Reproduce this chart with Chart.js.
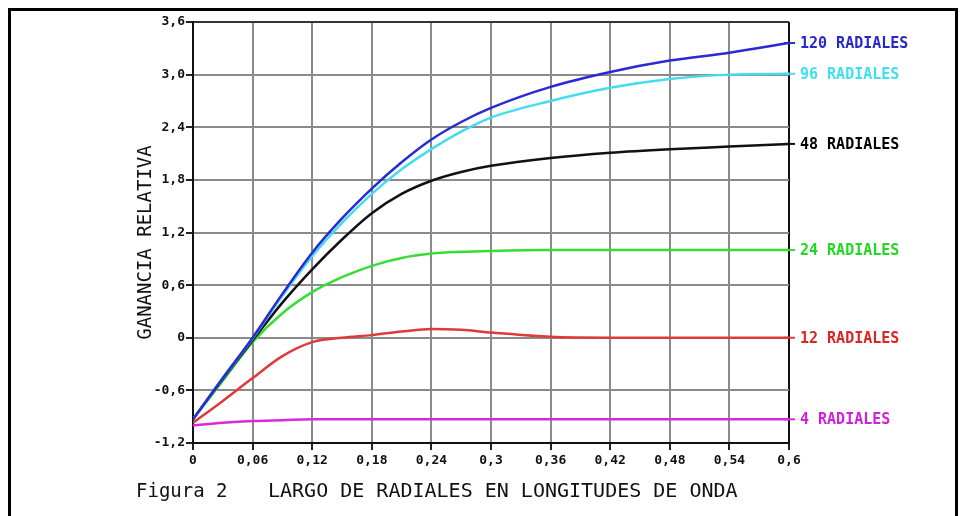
<!DOCTYPE html>
<html>
<head>
<meta charset="utf-8">
<script src="https://cdn.jsdelivr.net/npm/chart.js@4/dist/chart.umd.min.js"></script>
<style>
  body { margin: 0; background: #fff; }
  canvas { display: block; }
</style>
</head>
<body>
<canvas id="myChart" width="961" height="516"></canvas>
<script>
// largo de radiales (longitudes de onda)
var largo = [0, 0.03, 0.06, 0.09, 0.12, 0.15, 0.18, 0.21, 0.24, 0.27, 0.3, 0.36, 0.42, 0.48, 0.54, 0.6]

var rad120 = [-0.93, -0.46, 0.0, 0.5, 0.97, 1.36, 1.7, 2.0, 2.26, 2.46, 2.62, 2.86, 3.03, 3.16, 3.25, 3.36]
var rad96  = [-0.93, -0.46, -0.01, 0.48, 0.93, 1.31, 1.64, 1.92, 2.15, 2.35, 2.51, 2.7, 2.85, 2.95, 3.0, 3.01]
var rad48  = [-0.93, -0.47, -0.03, 0.4, 0.78, 1.12, 1.42, 1.64, 1.79, 1.89, 1.96, 2.05, 2.11, 2.15, 2.18, 2.21]
var rad24  = [-0.93, -0.49, -0.05, 0.28, 0.52, 0.69, 0.82, 0.91, 0.96, 0.98, 0.99, 1.0, 1.0, 1.0, 1.0, 1.0]
var rad12  = [-0.97, -0.72, -0.46, -0.21, -0.05, 0.0, 0.03, 0.07, 0.1, 0.09, 0.06, 0.01, 0.0, 0.0, 0.0, 0.0]
var rad4   = [-1.0, -0.97, -0.95, -0.94, -0.93, -0.93, -0.93, -0.93, -0.93, -0.93, -0.93, -0.93, -0.93, -0.93, -0.93, -0.93]

var xTicks = ["0", "0,06", "0,12", "0,18", "0,24", "0,3", "0,36", "0,42", "0,48", "0,54", "0,6"]
var yTicks = ["-1,2", "-0,6", "0", "0,6", "1,2", "1,8", "2,4", "3,0", "3,6"]

var seriesNames = ["120 RADIALES", "96 RADIALES", "48 RADIALES", "24 RADIALES", "12 RADIALES", "4 RADIALES"]
var seriesData = [rad120, rad96, rad48, rad24, rad12, rad4]
var lineColors = ["#2a2ad2", "#45dcef", "#111111", "#35de35", "#de3a3a", "#dc28dc"]
var textColors = ["#2828c8", "#3ee0ee", "#000000", "#22d822", "#dc2424", "#d020dc"]

var yTitle = "GANANCIA RELATIVA"
var captionA = "Figura 2"
var captionB = "LARGO DE RADIALES EN LONGITUDES DE ONDA"

function pts(arr) {
    return largo.map(function(x, i){ return {x: x, y: arr[i]} })
}

var datasets = seriesData.map(function(arr, i){
    return {
        label: seriesNames[i],
        data: pts(arr),
        borderColor: lineColors[i],
        backgroundColor: lineColors[i],
        borderWidth: 2.5,
        pointRadius: 0,
        cubicInterpolationMode: 'monotone',
        fill: false
    }
})

var mono = "'DejaVu Sans Mono', monospace"

// frame, right-hand labels, axis title and caption
var extras = {
    id: 'extras',
    afterDraw: function(chart){
        var ctx = chart.ctx
        var area = chart.chartArea
        var ys = chart.scales.y
        ctx.save()

        // outer frame
        ctx.strokeStyle = '#000'
        ctx.lineWidth = 3
        ctx.beginPath()
        ctx.moveTo(9.5, 520)
        ctx.lineTo(9.5, 9.5)
        ctx.lineTo(956.5, 9.5)
        ctx.lineTo(956.5, 520)
        ctx.stroke()

        // series labels at the right
        ctx.font = "bold 15px " + mono
        ctx.textBaseline = 'middle'
        ctx.textAlign = 'left'
        seriesData.forEach(function(arr, i){
            var py = ys.getPixelForValue(arr[arr.length - 1])
            ctx.strokeStyle = lineColors[i]
            ctx.lineWidth = 2
            ctx.beginPath()
            ctx.moveTo(area.right - 5, py)
            ctx.lineTo(area.right + 6, py)
            ctx.stroke()
            ctx.fillStyle = textColors[i]
            ctx.fillText(seriesNames[i], area.right + 11, py + 1)
        })

        // y axis title
        ctx.fillStyle = '#111'
        ctx.font = "19px " + mono
        ctx.textAlign = 'center'
        ctx.translate(146, (area.top + area.bottom) / 2 + 10)
        ctx.rotate(-Math.PI / 2)
        ctx.fillText(yTitle, 0, 0)
        ctx.restore()

        // caption
        ctx.save()
        ctx.fillStyle = '#111'
        ctx.textBaseline = 'alphabetic'
        ctx.textAlign = 'left'
        ctx.font = "19px " + mono
        ctx.fillText(captionA, 136, 497)
        ctx.font = "20px " + mono
        ctx.fillText(captionB, 268, 497)
        ctx.restore()
    }
}

var myChart = document.getElementById("myChart").getContext('2d')

var chart = new Chart(myChart, {
    type: 'line',
    data: { datasets: datasets },
    plugins: [extras],
    options: {
        responsive: false,
        animation: false,
        devicePixelRatio: 1,
        layout: { padding: { left: 0, top: 22, right: 172, bottom: 0 } },
        plugins: {
            legend: { display: false },
            tooltip: { enabled: false }
        },
        scales: {
            x: {
                type: 'linear',
                min: 0,
                max: 0.6,
                afterFit: function(s){ s.height = 73 },
                afterBuildTicks: function(s){
                    s.ticks = xTicks.map(function(t, i){ return {value: i * 0.06} })
                },
                ticks: {
                    autoSkip: false,
                    maxRotation: 0,
                    padding: 3,
                    color: '#111',
                    font: { family: mono, size: 13, weight: 'bold' },
                    callback: function(v, i){ return xTicks[i] }
                },
                grid: {
                    color: function(c){ return c.index === xTicks.length - 1 ? '#111' : '#8a8a8a' },
                    lineWidth: 2,
                    tickLength: 7,
                    tickColor: '#222'
                },
                border: { color: '#111', width: 2 }
            },
            y: {
                min: -1.2,
                max: 3.6,
                afterFit: function(s){ s.width = 193 },
                afterBuildTicks: function(s){
                    s.ticks = yTicks.map(function(t, i){ return {value: -1.2 + i * 0.6} })
                },
                ticks: {
                    autoSkip: false,
                    padding: 1,
                    color: '#111',
                    font: { family: mono, size: 13, weight: 'bold' },
                    callback: function(v, i){ return yTicks[i] }
                },
                grid: {
                    color: function(c){ return c.index === yTicks.length - 1 ? '#333' : '#8a8a8a' },
                    lineWidth: 2,
                    tickLength: 7,
                    tickColor: '#222'
                },
                border: { color: '#111', width: 2 }
            }
        }
    }
})
</script>
</body>
</html>
